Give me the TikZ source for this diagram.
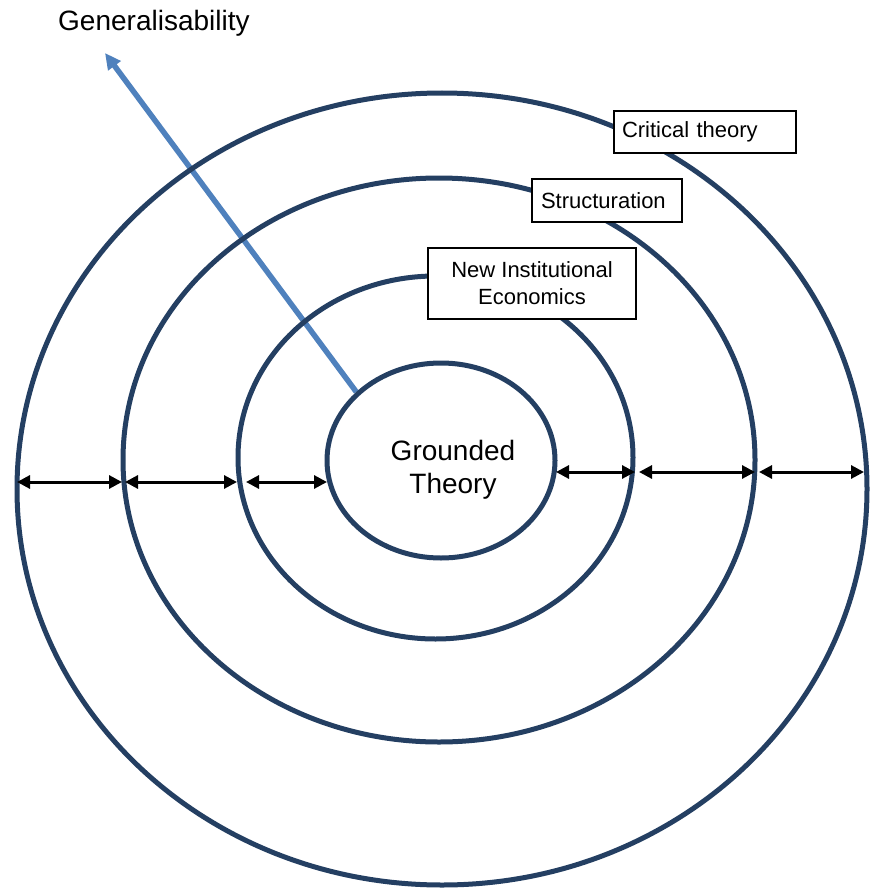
\documentclass[tikz,border=0pt]{standalone}
\usepackage{fontspec}
\setmainfont{Liberation Sans}
\usetikzlibrary{arrows.meta,shapes.geometric,backgrounds}
\definecolor{ringblue}{HTML}{243F62}
\definecolor{genblue}{HTML}{4F81BD}
\begin{document}
\begin{tikzpicture}[x=1pt,y=-1pt,
  ringline/.style={draw=ringblue, line width=5pt, ellipse, inner sep=0pt},
  span/.style={{Triangle[length=13pt,width=13pt]}-{Triangle[length=13pt,width=13pt]}, line width=3pt, black},
  tag/.style={draw=black, line width=2pt, fill=white, inner sep=0pt,
    font=\fontsize{22}{27}\selectfont},
  bigtext/.style={font=\fontsize{28}{33}\selectfont, inner sep=0pt, align=center}
]
\useasboundingbox (0,0) rectangle (877,888);

% concentric theory rings
\node[ringline, minimum width=850pt, minimum height=792pt] (outer) at (442,489) {};
\node[ringline, minimum width=632pt, minimum height=564pt] (r2) at (439,460) {};
\node[ringline, minimum width=395pt, minimum height=363pt] (r3) at (435.5,457.5) {};
\node[ringline, minimum width=228pt, minimum height=195pt] (gt) at (441,460.5) {};
\node[bigtext] (gtlabel) at (453,470) {Grounded\\Theory};

% generalisability direction
\node[font=\fontsize{28}{33}\selectfont, inner sep=0pt, anchor=base west] (gen) at (58,31) {Generalisability};
\coordinate (gtip) at (105,53);
\begin{pgfonlayer}{background}
  \draw[genblue, line width=5.5pt, -{Triangle[length=16pt,width=15pt]}] (gt.141) -- (gtip);
\end{pgfonlayer}

% ring labels
\node[tag, text width=166pt, align=left, inner xsep=8pt, minimum height=42pt] (crit) at (705,132) {Critical theory};
\node[tag, text width=132pt, align=left, inner xsep=9pt, minimum height=43pt] (struct) at (607,200.5) {Structuration};
\node[tag, align=center, minimum width=208pt, minimum height=71pt] (nie) at (532,283.5) {New Institutional\\Economics};

% spacing markers between rings
\coordinate (la) at (17,482);  \coordinate (lb) at (122,482);
\coordinate (lc) at (125,482); \coordinate (ld) at (237,482);
\coordinate (le) at (246,482); \coordinate (lf) at (327,482);
\coordinate (ra) at (556,472); \coordinate (rb) at (635,472);
\coordinate (rc) at (639,472); \coordinate (rd) at (755,472);
\coordinate (re) at (759,472); \coordinate (rf) at (864,472);
\draw[span] (la) -- (lb);
\draw[span] (lc) -- (ld);
\draw[span] (le) -- (lf);
\draw[span] (ra) -- (rb);
\draw[span] (rc) -- (rd);
\draw[span] (re) -- (rf);
\end{tikzpicture}
\end{document}
